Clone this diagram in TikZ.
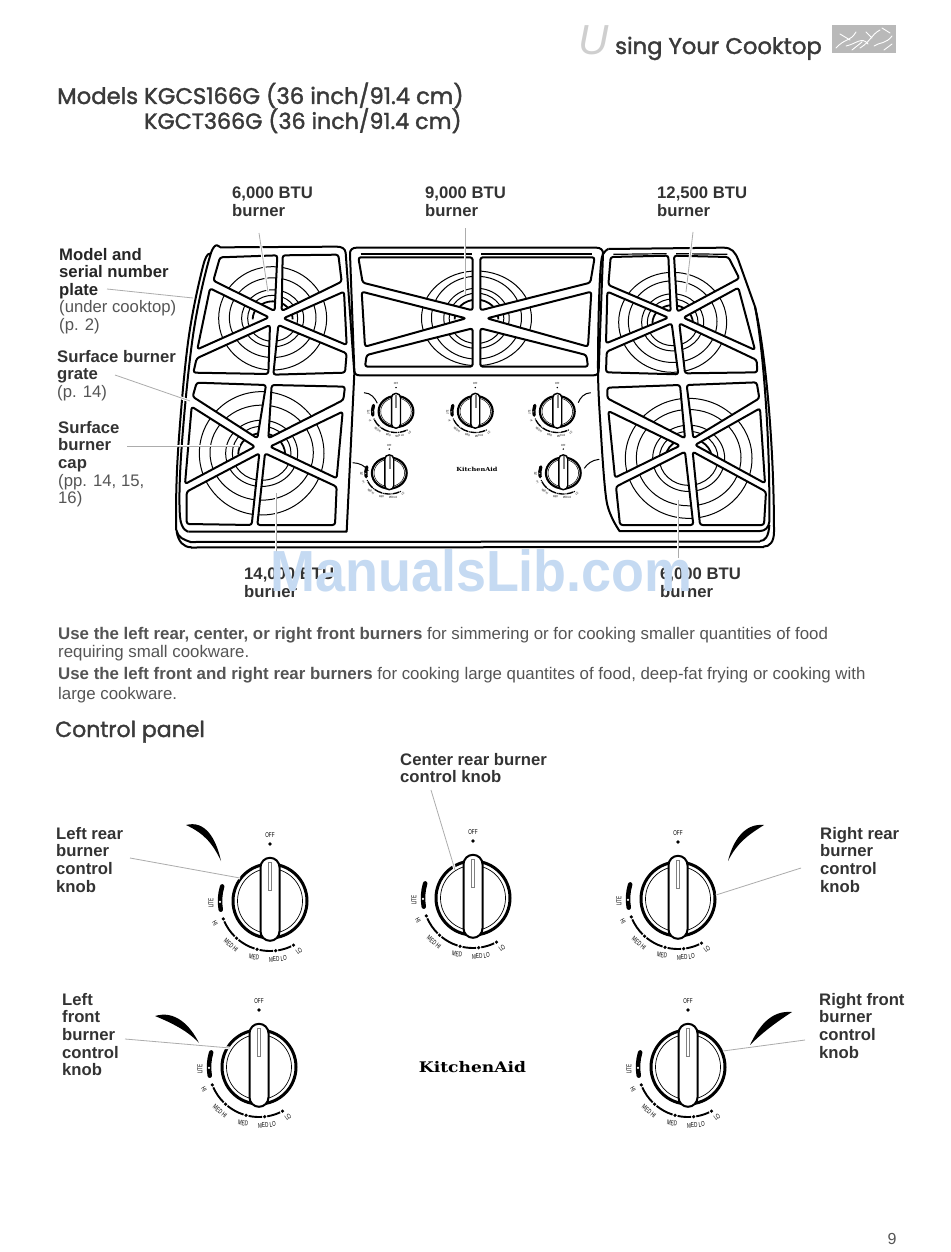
\documentclass[tikz,border=0pt]{standalone}
\usepackage{fontspec}
\setmainfont{Liberation Sans}
\newfontfamily\headfont[FakeBold=1.6]{Poppins}
\newfontfamily\logofont{DejaVu Serif}
\definecolor{labdark}{HTML}{333333}
\definecolor{labsoft}{HTML}{555555}
\definecolor{headc}{HTML}{3A3A3A}
\definecolor{markc}{HTML}{C5DAF2}
\newcommand\fl{\vphantom{Ag}}
\tikzset{
  lab/.style={anchor=north west,inner sep=0pt,align=left,text=labdark,font=\fontsize{16.7}{17.6}\selectfont\bfseries},
  para/.style={anchor=north west,inner sep=0pt,align=left,text=labsoft,font=\fontsize{16.7}{17.6}\selectfont},
  heading/.style={anchor=base west,inner sep=0pt,text=headc,font=\headfont\fontsize{22.7}{25}\selectfont},
  frame/.style={draw=black,line width=2pt,line join=round},
  cell/.style={draw=black,line width=2pt,rounded corners=2.5pt,line join=round},
  cellclip/.style={rounded corners=2.5pt},
  ring/.style={draw=black,line width=1pt},
  leader/.style={draw=gray!65,line width=.8pt,preaction={draw=white,line width=2.8pt}},
  knobtext/.style={transform shape,inner sep=0pt,xscale=.66,text=black,font=\fontsize{7}{8}\selectfont},
}
\newcommand\burner[7]{% cx cy rx1 ry1 rx2 rx3 rx4
  \draw[ring] (#1,#2) ellipse [x radius=#3,y radius=#4];
  \draw[ring] (#1,#2-2) ellipse [x radius=#5,y radius=#5*.92];
  \draw[ring] (#1,#2) ellipse [x radius=#6,y radius=#6*.92];
  \draw[ring] (#1,#2) ellipse [x radius=#7,y radius=#7*.92];
  \draw[draw=black,line width=1.8pt] (#1-#7*.8,#2+3) arc[start angle=180,end angle=360,x radius=#7*.8,y radius=#7*.72];
}
\newcommand\knob[6]{% x y scaling linescale slotfill name
  \begin{scope}[shift={(#1,#2)},x=1pt,y=1pt,#3]
    \draw[line width=#4*3pt,fill=white] (0,0) circle (37);
    \draw[line width=#4*.7pt] (0,0) circle (32.5);
    \draw[line width=#4*2pt,fill=white] (-9.5,-30.3) -- (-9.5,33.7) arc[start angle=180,end angle=0,radius=9.5] -- (9.5,-30.3) arc[start angle=0,end angle=-180,radius=9.5] -- cycle;
    \draw[draw=gray,line width=#4*.5pt,fill=#5] (-1.3,10.7) rectangle (1.3,39);
    \node[knobtext] (#6off) at (0,66) {OFF};
    \fill (0,57) circle (1.8);
    \draw[line width=#4*4.5pt,line cap=round] (163:50) arc[start angle=163,end angle=190,radius=50];
    \fill[white] (181:50) circle (1.2);
    \foreach \a/\b in {204/225,231/252,258/273.5,279.5/295}
      \draw[line width=#4*1.9pt] (\a:50) arc[start angle=\a,end angle=\b,radius=50];
    \foreach \a in {201,228,255,276.5,298}
      \fill (\a:50) circle (1.8);
    \node[rotate=90,knobtext] (#6lite) at (-59,-2) {LITE};
    \node[rotate=-60,knobtext] (#6hi) at (-55,-22) {HI};
    \node[rotate=-40,knobtext] (#6mhi) at (-39,-44) {MED HI};
    \node[rotate=-10,knobtext] (#6med) at (-16,-56) {MED};
    \node[rotate=5,knobtext] (#6mlo) at (8,-58) {MED LO};
    \node[rotate=35,knobtext] (#6lo) at (29,-50) {LO};
  \end{scope}
}
% grate cells (zoom coordinates, 3 units per pixel)
\def\cellsTL{(150,82)--(322,76)--(314,243)--(130,152)--cycle (338,76)--(505,74)--(515,155)--(335,243)--cycle (120,175)--(297,262)--(82,358)--cycle (522,185)--(340,265)--(530,345)--cycle (300,285)--(80,385)--(70,428)--(295,432)--cycle (325,285)--(530,370)--(525,428)--(310,434)--cycle}
\def\cellsBL{(80,458)--(288,465)--(262,625)--(68,500)--cycle (305,465)--(525,470)--(520,510)--(295,625)--cycle (65,530)--(255,650)--(45,762)--cycle (518,545)--(300,650)--(500,745)--cycle (268,670)--(50,785)--(50,882)--(245,885)--cycle (285,670)--(500,770)--(495,885)--(262,885)--cycle}
\def\cellsC{(565,82)--(908,82)--(908,241)--(578,158)--cycle (575,185)--(888,265)--(585,350)--cycle (908,295)--(590,375)--(585,410)--(908,410)--cycle (1274,82)--(931,82)--(931,241)--(1261,158)--cycle (1264,185)--(951,265)--(1254,350)--cycle (931,295)--(1249,375)--(1254,410)--(931,410)--cycle}
\def\cellsTR{(32,66)--(205,62)--(212,230)--(25,150)--cycle (222,62)--(385,66)--(418,130)--(232,230)--cycle (22,170)--(205,248)--(18,325)--cycle (415,158)--(250,248)--(465,345)--cycle (215,265)--(20,350)--(18,412)--(235,418)--cycle (238,265)--(470,375)--(472,412)--(255,415)--cycle}
\def\cellsBR{(22,458)--(240,450)--(255,610)--(22,490)--cycle (260,450)--(470,442)--(478,490)--(280,610)--cycle (25,528)--(240,632)--(45,728)--cycle (480,520)--(285,630)--(495,745)--cycle (255,650)--(48,755)--(60,870)--(280,870)--cycle (278,650)--(498,770)--(492,870)--(300,870)--cycle}
\begin{document}
\begin{tikzpicture}[x=1pt,y=-1pt]
\useasboundingbox[fill=white] (0,0) rectangle (950,1252);

% ---------- page header ----------
\node[anchor=base west,inner sep=0pt,text=gray!38,font=\fontsize{42}{42}\selectfont\rmfamily\itshape] (bigU) at (578,55) {U};
\node[heading,font=\headfont\fontsize{22.7}{26}\selectfont] (runhead) at (615,54) {sing Your Cooktop};
\fill[gray!55] (832,25) rectangle (896,53);
\draw[white,line width=.9pt,line cap=round] (836,48) .. controls (845,38) and (850,42) .. (856,32) (846,46) .. controls (856,44) and (862,36) .. (868,44) (860,48) .. controls (870,42) and (872,34) .. (880,30) (874,46) .. controls (880,42) and (886,44) .. (892,36) (882,28) -- (890,33) (840,34) -- (850,40) (866,32) -- (872,38) (852,50) -- (862,42) (884,50) -- (892,44);

\node[heading] (title1) at (57,104) {Models KGCS166G (36 inch/91.4 cm)};
\node[heading,font=\headfont\fontsize{22.2}{25}\selectfont] (title2) at (144,129) {KGCT366G (36 inch/91.4 cm)};

% ---------- cooktop: left section ----------
\begin{scope}[shift={(170,230)},scale=.33333]
  \begin{scope}\clip[cellclip] \cellsTL; \burner{308}{265}{162}{155}{130}{93}{75}\end{scope}
  \begin{scope}\clip[cellclip] \cellsBL; \burner{275}{670}{187}{185}{155}{108}{88}\end{scope}
  \draw[cell] \cellsTL;
  \draw[cell] \cellsBL;
  \draw[frame] plot[smooth,tension=.6] coordinates {(150,52)(122,72)(70,310)(35,650)(30,860)(55,905)};
  \draw[frame] (150,52) -- (500,50) .. controls (515,50) and (525,55) .. (527,68) -- (553,430) -- (530,905) -- (55,905);
  \draw[frame] plot[smooth,tension=.6] coordinates {(122,72)(100,105)(55,330)(25,650)(18,860)(25,915)(62,936)};
  \draw[frame] (20,905) .. controls (25,935) and (40,952) .. (65,952);
  % centre section
  \begin{scope}\clip[cellclip] \cellsC; \burner{919.5}{265}{165}{142}{135}{98}{82}\end{scope}
  \draw[cell] \cellsC;
  \draw[frame] (560,53) -- (1279,53) .. controls (1292,53) and (1300,60) .. (1299,72) -- (1286,422) .. controls (1285,432) and (1280,436) .. (1270,436) -- (569,436) .. controls (559,436) and (554,432) .. (553,422) -- (540,72) .. controls (539,60) and (547,53) .. (560,53) -- cycle;
  \draw[line width=1.2pt] (572,72) -- (905,72) (934,72) -- (1267,72);
\end{scope}

% ---------- cooktop: right section ----------
\begin{scope}[shift={(600,235)},scale=.33333]
  \begin{scope}\clip[cellclip] \cellsTR; \burner{218}{262}{162}{150}{133}{93}{76}\end{scope}
  \begin{scope}\clip[cellclip] \cellsBR; \burner{266}{670}{190}{180}{157}{108}{88}\end{scope}
  \draw[cell] \cellsTR;
  \draw[cell] \cellsBR;
  \draw[line width=1.2pt] (40,58) -- (200,56) (228,56) -- (382,58);
  \draw[frame] plot[smooth,tension=.5] coordinates {(60,890)(20,800)(0,550)(-6,405)(-3,200)(5,70)(25,42)};
  \draw[frame] (25,42) -- (370,38) .. controls (395,38) and (405,50) .. (415,75) -- (465,215) .. controls (490,340) and (508,600) .. (508,800) -- (508,860) .. controls (506,878) and (495,888) .. (480,888) -- (60,888);
  \draw[frame] (465,215) .. controls (495,340) and (522,620) .. (522,890) .. controls (522,920) and (510,935) .. (490,935);
  \draw[frame] (508,870) .. controls (506,905) and (495,918) .. (480,918);
\end{scope}

% bottom edge of the cooktop
\draw[frame] (190,542) -- (760,541.5);
\draw[frame] (191,547.5) -- (764,547);

% ---------- small control knobs on the cooktop ----------
\knob{396}{411.5}{xscale=.47,yscale=.42}{.72}{gray!70}{sa}
\knob{475.3}{411.5}{xscale=.47,yscale=.42}{.72}{gray!70}{sb}
\knob{557.3}{411.5}{xscale=.47,yscale=.42}{.72}{gray!70}{sc}
\knob{389.3}{473}{xscale=.47,yscale=.42}{.72}{gray!70}{sd}
\knob{563.3}{473}{xscale=.47,yscale=.42}{.72}{gray!70}{se}
\draw[line width=1pt] (364,392.7) .. controls (371,393) and (375,398) .. (377.3,403.3);
\draw[line width=1pt] (590.7,392.7) .. controls (584,393) and (580,398) .. (578.3,402.7);
\draw[line width=1pt] (352.7,462.7) .. controls (360,463) and (365,466) .. (368.3,470.7);
\draw[line width=1pt] (599.3,459.3) .. controls (592,460) and (587,464) .. (584.3,468.3);
\node[inner sep=0pt,xscale=1.17,font=\logofont\bfseries\fontsize{5.6}{6}\selectfont] (logosmall) at (477,469) {KitchenAid};

% ---------- labels of the cooktop ----------
\node[lab] (b1) at (232,187) {\fl 6,000 BTU\\burner};
\node[lab] (b2) at (425,187) {\fl 9,000 BTU\\burner};
\node[lab] (b3) at (657,187) {\fl 12,500 BTU\\burner};
\node[lab] (b4) at (244,568) {\fl 14,000 BTU\\burner};
\node[lab] (b5) at (660,568) {\fl 6,000 BTU\\burner};
\node[lab,text=black!85] (l1) at (59,248) {\fl Model and\\serial number\\plate};
\node[para] (l1b) at (59,300.5) {\fl (under cooktop)\\(p. 2)};
\node[lab] (l2) at (57,350) {\fl Surface burner\\grate};
\node[para] (l2b) at (57,385.5) {\fl (p. 14)};
\node[lab] (l3) at (58,421) {\fl Surface\\burner\\cap};
\node[para] (l3b) at (58,474) {\fl (pp. 14, 15,\\16)};

\node[para,font=\fontsize{16.85}{18}\selectfont] (p1) at (58,627) {\fl\textbf{Use the left rear, center, or right front burners} for simmering or for cooking smaller quantities of food\\requiring small cookware.};
\node[para,font=\fontsize{16.85}{20}\selectfont] (p2) at (58,667) {\fl\textbf{Use the left front and right rear burners} for cooking large quantites of food, deep-fat frying or cooking with\\large cookware.};

\node[heading,font=\headfont\fontsize{22}{24}\selectfont] (cp) at (55,737) {Control panel};

% ---------- large control knobs ----------
\knob{270}{901}{scale=1}{1}{white}{ka}
\knob{473}{898}{scale=1}{1}{white}{kb}
\knob{678}{899}{scale=1}{1}{white}{kc}
\knob{259}{1067}{scale=1}{1}{white}{kd}
\knob{688}{1067}{scale=1}{1}{white}{ke}
\fill (186,825) .. controls (205,820) and (216,838) .. (221,861) .. controls (212,842) and (203,833) .. cycle;
\fill (764,825) .. controls (745,823) and (733,840) .. (728,861) .. controls (737,843) and (748,835) .. cycle;
\fill (155,1016) .. controls (175,1010) and (190,1025) .. (199,1043) .. controls (188,1031) and (172,1023) .. cycle;
\fill (792,1012) .. controls (770,1010) and (758,1028) .. (750,1045) .. controls (762,1033) and (775,1023) .. cycle;
\node[inner sep=0pt,xscale=1.17,font=\logofont\bfseries\fontsize{14.6}{15}\selectfont] (logo) at (472.5,1067) {KitchenAid};

\node[lab] (c1) at (400,753) {\fl Center rear burner\\control knob};
\node[lab] (c2) at (56,827) {\fl Left rear\\burner\\control\\knob};
\node[lab] (c3) at (820,827) {\fl Right rear\\burner\\control\\knob};
\node[lab] (c4) at (62,993) {\fl Left\\front\\burner\\control\\knob};
\node[lab] (c5) at (819,993) {\fl Right front\\burner\\control\\knob};

\node[anchor=base,inner sep=0pt,text=labsoft,font=\fontsize{16}{17}\selectfont] (pageno) at (892,1244) {9};

% ---------- leader lines ----------
\coordinate (t1) at (259,233); \coordinate (e1) at (268,292);
\coordinate (t2) at (465,228); \coordinate (e2) at (465,295);
\coordinate (t3) at (693,232); \coordinate (e3) at (686,292);
\coordinate (t4) at (276,556); \coordinate (e4) at (276,493);
\coordinate (t5) at (678,558); \coordinate (e5) at (678,500);
\coordinate (t6) at (107,289); \coordinate (e6) at (193,298);
\coordinate (t7) at (115,375); \coordinate (e7) at (190,401);
\coordinate (t8) at (127,446); \coordinate (e8) at (240,446);
\coordinate (t9) at (431,790); \coordinate (e9) at (455,870);
\coordinate (t10) at (130,858); \coordinate (e10) at (240,878);
\coordinate (t11) at (801,868); \coordinate (e11) at (716,895);
\coordinate (t12) at (125,1039); \coordinate (e12) at (230,1048);
\coordinate (t13) at (805,1040); \coordinate (e13) at (723,1051);
\foreach \i in {1,...,13} \draw[leader] (t\i) -- (e\i);

% ---------- watermark ----------
\node[anchor=base west,inner sep=0pt,xscale=.93,text=markc,font=\fontsize{58}{58}\selectfont\bfseries] (mark) at (270,591.5) {ManualsLib.com};
\end{tikzpicture}
\end{document}
